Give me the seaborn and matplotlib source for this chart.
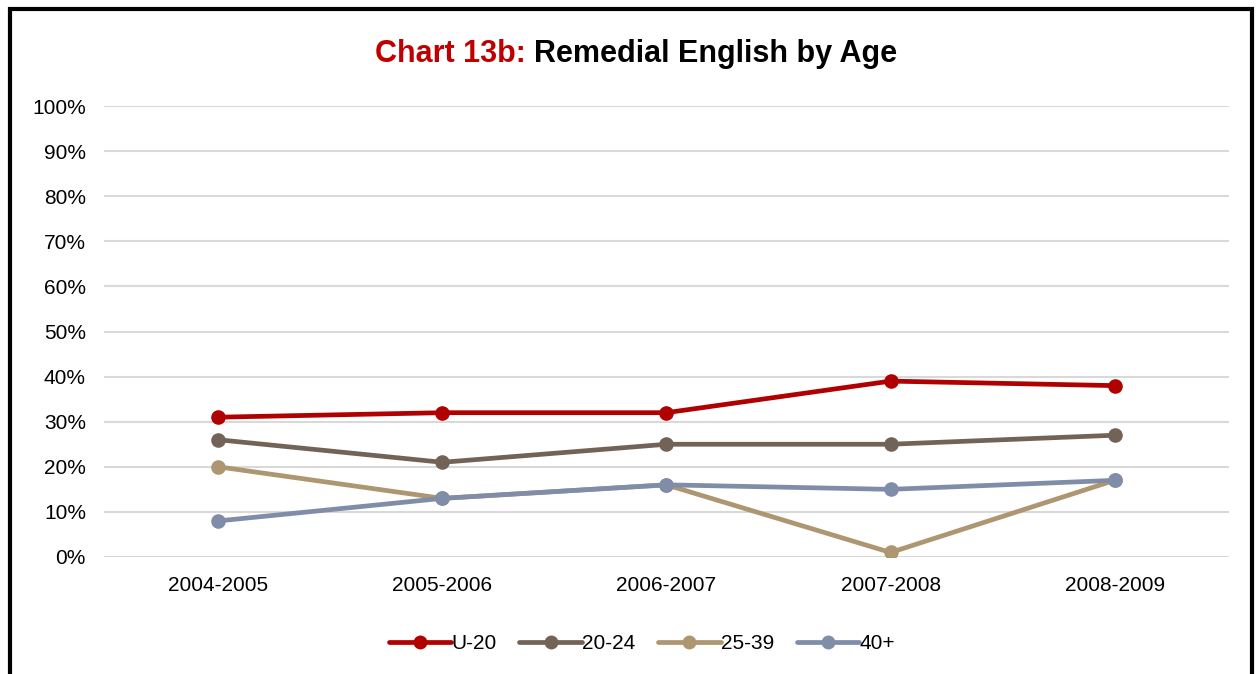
import matplotlib
matplotlib.use("Agg")
import matplotlib.pyplot as plt
import seaborn as sns
import pandas as pd
from matplotlib.patches import Rectangle

years = ["2004-2005", "2005-2006", "2006-2007", "2007-2008", "2008-2009"]
series_names = ["U-20", "20-24", "25-39", "40+"]
u20 = [31, 32, 32, 39, 38]
a20_24 = [26, 21, 25, 25, 27]
a25_39 = [20, 13, 16, 1, 17]
a40 = [8, 13, 16, 15, 17]
colors = ["#B00000", "#736357", "#AD9670", "#7F8DA9"]

sns.set_theme(style="white")
plt.rcParams['font.family'] = ['Liberation Sans', 'DejaVu Sans']

rows = []
for name, vals in zip(series_names, [u20, a20_24, a25_39, a40]):
    for y, v in zip(years, vals):
        rows.append({"Year": y, "Age": name, "Value": v / 100})
df = pd.DataFrame(rows)

fig = plt.figure(figsize=(12.57, 6.74), dpi=100)
ax = fig.add_axes([0.0827, 0.1736, 0.8950, 0.6691])
sns.lineplot(data=df, x="Year", y="Value", hue="Age", hue_order=series_names,
             palette=colors, marker="o", markersize=10.5, markeredgewidth=0,
             linewidth=3.4, sort=False, ax=ax, legend=True)

ax.set_xlim(-0.51, 4.51)
ax.set_ylim(0, 1.0)
ax.set_yticks([i / 10 for i in range(11)])
ax.set_yticklabels([f"{i*10}%" for i in range(11)], fontsize=15, color="black")
ax.tick_params(axis='x', labelsize=15, pad=14, length=0, labelcolor="black")
ax.tick_params(axis='y', length=0, pad=13)
ax.yaxis.grid(True, color="#D9D9D9", linewidth=1.5)
ax.set_axisbelow(True)
for s in ax.spines.values():
    s.set_visible(False)
ax.set_xlabel("")
ax.set_ylabel("")

leg = ax.legend(loc="upper center", bbox_to_anchor=(0.478, -0.13), ncol=4,
                frameon=False, fontsize=15, handlelength=3.0, handletextpad=0.0,
                columnspacing=1.1)
for h in leg.legend_handles:
    h.set_linewidth(3.4)
    h.set_markersize(10)
for t in leg.get_texts():
    t.set_color("black")

# border
fig.patches.append(Rectangle((0.008, -0.05), 0.988, 1.036, transform=fig.transFigure,
                             fill=False, edgecolor="black", linewidth=3))

# title in two colours
fig.canvas.draw()
r = fig.canvas.get_renderer()
t1 = fig.text(0, 0.92, "Chart 13b: ", color="#C00000", fontsize=22, fontweight="bold", va="center")
t2 = fig.text(0, 0.92, "Remedial English by Age", color="black", fontsize=22, fontweight="bold", va="center")
w1 = t1.get_window_extent(r).width / fig.bbox.width
w2 = t2.get_window_extent(r).width / fig.bbox.width
x0 = 0.506 - (w1 + w2) / 2
t1.set_x(x0)
t2.set_x(x0 + w1)

fig.savefig("out.png", dpi=100)
